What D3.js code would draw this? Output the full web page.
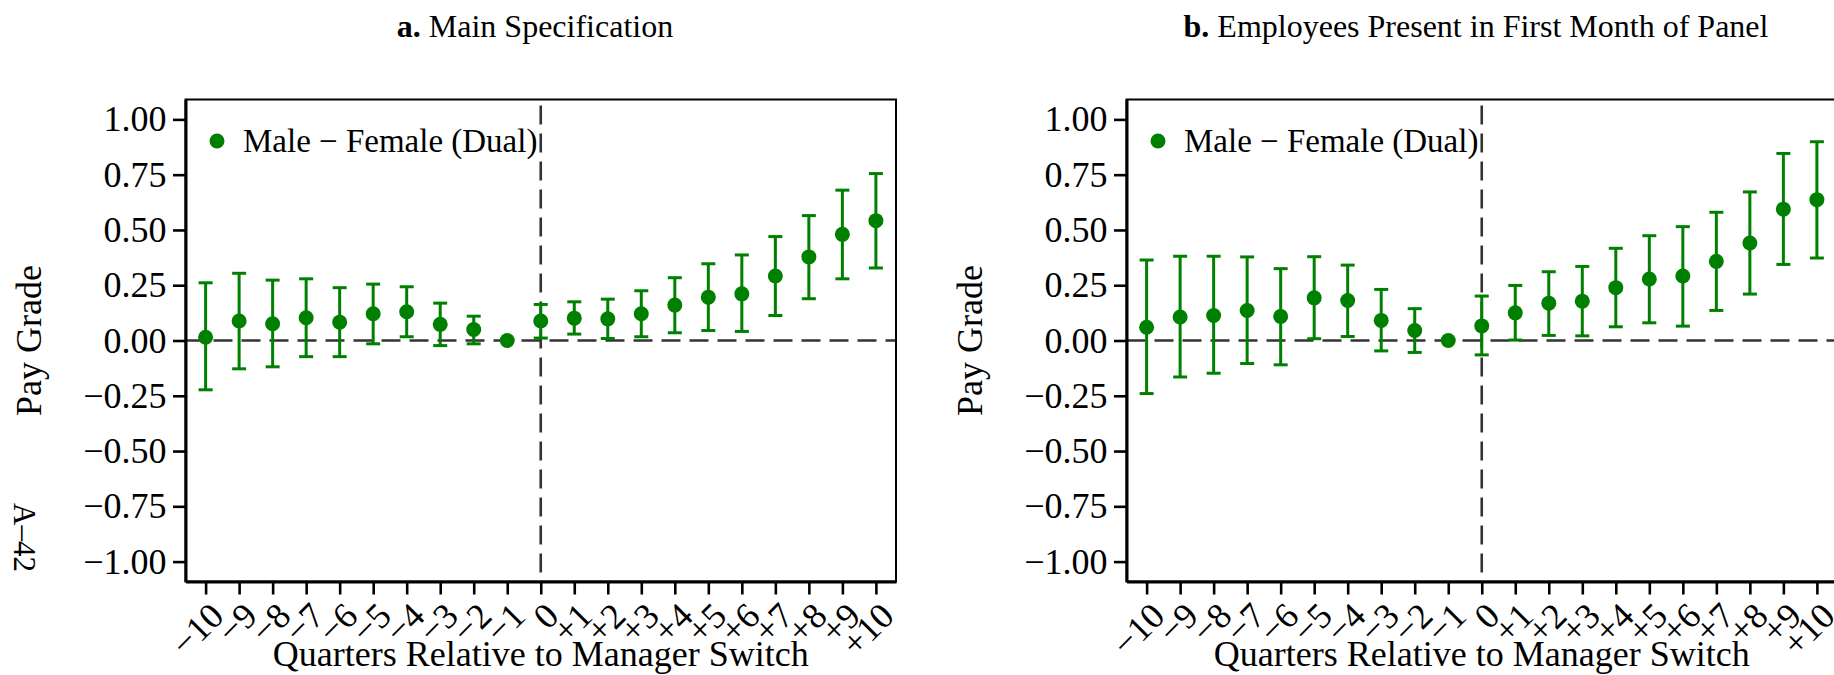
<!DOCTYPE html>
<html>
<head>
<meta charset="utf-8">
<script src="https://cdn.jsdelivr.net/npm/d3@7"></script>
<style>
  body { margin: 0; background: #fff; }
  svg { display: block; }
  text { font-family: "Liberation Serif", "Times New Roman", Times, serif; fill: #000; }
</style>
</head>
<body>
<svg id="fig" width="1834" height="675"></svg>
<script>
// ---- data ----------------------------------------------------------------
const quarters = d3.range(-10, 11);
const quarterLabels = ["−10","−9","−8","−7","−6","−5","−4","−3","−2","−1","0",
                       "+1","+2","+3","+4","+5","+6","+7","+8","+9","+10"];
const yTickValues = [-1, -0.75, -0.5, -0.25, 0, 0.25, 0.5, 0.75, 1];

// Panel a: main specification (estimate, 95% CI); quarter -1 is the omitted reference
const mainEst = [0.015, 0.088, 0.076, 0.103, 0.083, 0.121, 0.130, 0.073, 0.050, 0,
                 0.088, 0.101, 0.098, 0.121, 0.160, 0.196, 0.211, 0.292, 0.378, 0.480, 0.542];
const mainLo  = [-0.223, -0.128, -0.119, -0.073, -0.073, -0.015, 0.017, -0.023, -0.015, null,
                 0.011, 0.029, 0.009, 0.017, 0.035, 0.045, 0.041, 0.113, 0.189, 0.279, 0.328];
const mainHi  = [0.261, 0.304, 0.273, 0.279, 0.239, 0.255, 0.243, 0.169, 0.110, null,
                 0.163, 0.175, 0.187, 0.225, 0.284, 0.347, 0.387, 0.470, 0.565, 0.680, 0.755];

// Panel b: employees present in the first month of the panel
const firstEst = [0.060, 0.106, 0.113, 0.136, 0.109, 0.193, 0.181, 0.091, 0.045, 0,
                  0.066, 0.125, 0.169, 0.178, 0.239, 0.278, 0.292, 0.358, 0.441, 0.594, 0.637];
const firstLo  = [-0.240, -0.165, -0.148, -0.104, -0.110, 0.008, 0.018, -0.047, -0.054, null,
                  -0.065, 0.002, 0.023, 0.021, 0.062, 0.080, 0.065, 0.136, 0.210, 0.344, 0.373];
const firstHi  = [0.364, 0.381, 0.381, 0.378, 0.325, 0.379, 0.341, 0.231, 0.144, null,
                  0.201, 0.249, 0.311, 0.335, 0.417, 0.474, 0.515, 0.580, 0.672, 0.846, 0.899];

const panelLetters = ["a.", "b."];
const panelTitles = ["Main Specification", "Employees Present in First Month of Panel"];
const legendLabel = "Male − Female (Dual)";
const xTitle = "Quarters Relative to Manager Switch";
const yTitle = "Pay Grade";
const pageNumber = "A–42";

// ---- layout --------------------------------------------------------------
const GREEN = "#008000";
const DASH = "#333333";
const SERIF = "'Liberation Serif', 'Times New Roman', serif";
const panelOffsets = [0, 941];
const plot = { left: 185.5, right: 896, top: 99.5, bottom: 581.5 };

const svg = d3.select("#fig");
svg.append("rect").attr("width", 1834).attr("height", 675).attr("fill", "#fff");

const panels = [
  { est: mainEst, lo: mainLo, hi: mainHi },
  { est: firstEst, lo: firstLo, hi: firstHi }
];

panels.forEach((p, k) => {
  const ox = panelOffsets[k];
  const g = svg.append("g");

  const x = d3.scaleLinear().domain([-10.6, 10.6]).range([ox + plot.left, ox + plot.right]);
  const y = d3.scaleLinear().domain([-1.09, 1.09]).range([plot.bottom, plot.top]);

  // panel title
  const t = g.append("text")
    .attr("x", ox + 535).attr("y", 36.5)
    .attr("text-anchor", "middle")
    .style("font-size", "32px");
  t.append("tspan").style("font-weight", "bold").text(panelLetters[k]);
  t.append("tspan").text(" " + panelTitles[k]);

  // reference lines at zero
  g.append("line")
    .attr("x1", x(-10.6)).attr("x2", x(10.6))
    .attr("y1", y(0)).attr("y2", y(0))
    .attr("stroke", DASH).attr("stroke-width", 2.6).attr("stroke-dasharray", "19,9");
  g.append("line")
    .attr("x1", x(0)).attr("x2", x(0))
    .attr("y1", plot.top + 6).attr("y2", plot.bottom)
    .attr("stroke", DASH).attr("stroke-width", 2.6).attr("stroke-dasharray", "19,9");

  // error bars
  const rows = quarters.map((q, i) => ({ q, est: p.est[i], lo: p.lo[i], hi: p.hi[i] }));
  const withCI = rows.filter(d => d.lo !== null);
  const bars = g.append("g").attr("stroke", GREEN).attr("stroke-width", 3);
  bars.selectAll(".stem").data(withCI).join("line")
    .attr("x1", d => x(d.q)).attr("x2", d => x(d.q))
    .attr("y1", d => y(d.lo)).attr("y2", d => y(d.hi));
  bars.selectAll(".capHi").data(withCI).join("line")
    .attr("x1", d => x(d.q) - 7).attr("x2", d => x(d.q) + 7)
    .attr("y1", d => y(d.hi)).attr("y2", d => y(d.hi));
  bars.selectAll(".capLo").data(withCI).join("line")
    .attr("x1", d => x(d.q) - 7).attr("x2", d => x(d.q) + 7)
    .attr("y1", d => y(d.lo)).attr("y2", d => y(d.lo));

  // point estimates
  g.append("g").selectAll("circle").data(rows).join("circle")
    .attr("cx", d => x(d.q)).attr("cy", d => y(d.est))
    .attr("r", 7.5).attr("fill", GREEN);

  // frame
  g.append("rect")
    .attr("x", x(-10.6)).attr("y", plot.top)
    .attr("width", x(10.6) - x(-10.6)).attr("height", plot.bottom - plot.top)
    .attr("fill", "none").attr("stroke", "#000").attr("stroke-width", 2);

  // y axis
  const yAxis = g.append("g")
    .attr("transform", `translate(${x(-10.6)},0)`)
    .call(d3.axisLeft(y).tickValues(yTickValues).tickFormat(d3.format(".2f"))
      .tickSize(12.5).tickPadding(6.5).tickSizeOuter(0));
  yAxis.attr("font-family", null).attr("font-size", null);
  yAxis.select(".domain").attr("stroke", "#000").attr("stroke-width", 3);
  yAxis.selectAll(".tick line").attr("stroke", "#000").attr("stroke-width", 2.6);
  yAxis.selectAll(".tick text").attr("fill", "#000")
    .style("font-family", SERIF).style("font-size", "36px");

  // x axis
  const xAxis = g.append("g")
    .attr("transform", `translate(0,${plot.bottom})`)
    .call(d3.axisBottom(x).tickValues(quarters).tickFormat((d, i) => quarterLabels[i])
      .tickSize(13).tickSizeOuter(0));
  xAxis.attr("font-family", null).attr("font-size", null);
  xAxis.select(".domain").attr("stroke", "#000").attr("stroke-width", 3);
  xAxis.selectAll(".tick line").attr("stroke", "#000").attr("stroke-width", 2.6);
  xAxis.selectAll(".tick text")
    .attr("fill", "#000")
    .attr("x", null).attr("y", null).attr("dy", "0.69em")
    .attr("text-anchor", "end")
    .attr("transform", "translate(2,19) rotate(-45)")
    .style("font-family", SERIF).style("font-size", "36px");

  // axis titles
  g.append("text")
    .attr("x", (x(-10.6) + x(10.6)) / 2).attr("y", 666)
    .attr("text-anchor", "middle").style("font-size", "36px").text(xTitle);
  g.append("text")
    .attr("transform", `translate(${ox + 40.5},340.5) rotate(-90)`)
    .attr("text-anchor", "middle").style("font-size", "36px").text(yTitle);

  // legend
  g.append("circle").attr("cx", ox + 217).attr("cy", 141).attr("r", 7.5).attr("fill", GREEN);
  g.append("text")
    .attr("x", ox + 243).attr("y", 152)
    .style("font-size", "33px").text(legendLabel);
});

// page number in the margin
svg.append("text")
  .attr("transform", "translate(14,503) rotate(90)")
  .style("font-size", "31px").text(pageNumber);
</script>
</body>
</html>
